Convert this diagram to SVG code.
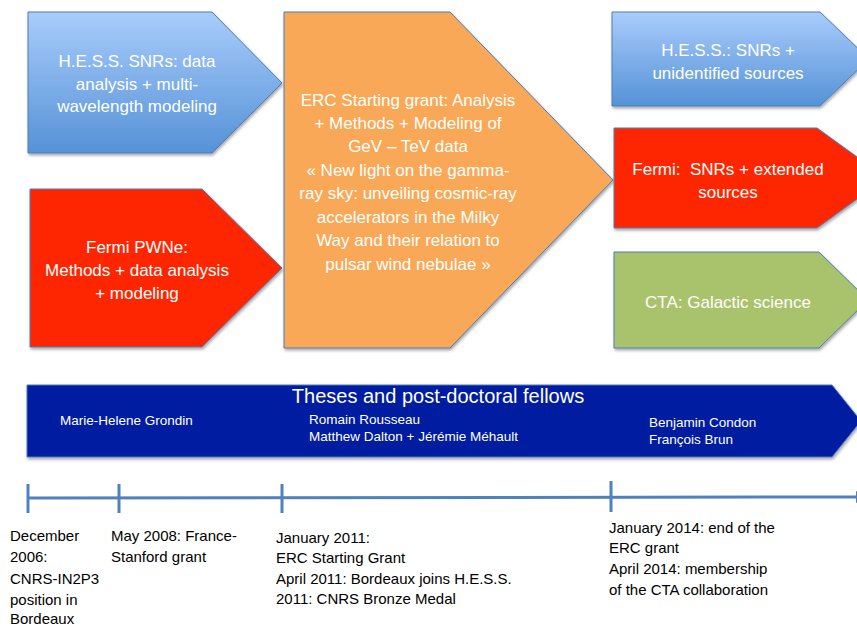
<svg xmlns="http://www.w3.org/2000/svg" width="857" height="626" viewBox="0 0 857 626">
<defs>
<linearGradient id="gBlue" x1="0" y1="0" x2="0" y2="1">
<stop offset="0" stop-color="#a9ccfb"/>
<stop offset="1" stop-color="#5592d7"/>
</linearGradient>
<filter id="sh" x="-5%" y="-5%" width="115%" height="115%">
<feDropShadow dx="1" dy="2" stdDeviation="1.5" flood-color="#000" flood-opacity="0.35"/>
</filter>
<marker id="arr" viewBox="0 0 10 10" refX="5" refY="5" markerWidth="4" markerHeight="4" orient="auto" markerUnits="strokeWidth">
<path d="M0,0 L10,5 L0,10 z" fill="#4f81bd"/>
</marker>
</defs>
<style>
.shape{stroke:#4a7ebb;stroke-width:1;filter:url(#sh)}
.bt{font-family:"Liberation Sans",Arial,sans-serif;font-size:17px;fill:#ffffff;text-anchor:middle}
.nm{font-family:"Liberation Sans",Arial,sans-serif;font-size:13.5px;fill:#ffffff}
.tl{font-family:"Liberation Sans",Arial,sans-serif;font-size:15px;fill:#000000}
.line{stroke:#4f81bd;stroke-width:3;fill:none}
</style>
<rect width="857" height="626" fill="#ffffff"/>

<g id="hess-snrs">
<polygon class="shape" fill="url(#gBlue)" points="28,12 212,12 282,83 212,153 28,153"/>
<text class="bt" x="137" y="67">H.E.S.S. SNRs: data</text>
<text class="bt" x="137" y="90">analysis + multi-</text>
<text class="bt" x="137" y="112">wavelength modeling</text>
</g>

<g id="fermi-pwne">
<polygon class="shape" fill="#fe2600" points="30,189 202,189 282,268 202,347 30,347"/>
<text class="bt" x="137" y="253">Fermi PWNe:</text>
<text class="bt" x="137" y="276">Methods + data analysis</text>
<text class="bt" x="137" y="299">+ modeling</text>
</g>

<g id="erc">
<polygon class="shape" fill="#f8a857" points="284,12 450,12 613,180 450,348 284,348"/>
<text class="bt" x="408" y="106">ERC Starting grant: Analysis</text>
<text class="bt" x="408" y="129">+ Methods + Modeling of</text>
<text class="bt" x="408" y="152">GeV – TeV data</text>
<text class="bt" x="408" y="176">« New light on the gamma-</text>
<text class="bt" x="408" y="199">ray sky: unveiling cosmic-ray</text>
<text class="bt" x="408" y="223">accelerators in the Milky</text>
<text class="bt" x="408" y="246">Way and their relation to</text>
<text class="bt" x="408" y="270">pulsar wind nebulae »</text>
</g>

<g id="hess-future">
<polygon class="shape" fill="url(#gBlue)" points="612,12 820,12 869,59 820,106 612,106"/>
<text class="bt" x="728" y="56">H.E.S.S.: SNRs +</text>
<text class="bt" x="728" y="79">unidentified sources</text>
</g>

<g id="fermi-future">
<polygon class="shape" fill="#fe2600" points="614,128 817,128 886,178 817,228 614,228"/>
<text class="bt" x="728" y="175">Fermi:&#160; SNRs + extended</text>
<text class="bt" x="728" y="198">sources</text>
</g>

<g id="cta">
<polygon class="shape" fill="#a9c36c" points="614,252 819,252 868,300 819,348 614,348"/>
<text class="bt" x="728" y="308">CTA: Galactic science</text>
</g>

<g id="theses">
<polygon class="shape" fill="#001aa0" points="27,385 832,385 861,421 832,457 27,457"/>
<text class="bt" x="438" y="403" style="font-size:20px">Theses and post-doctoral fellows</text>
<text class="nm" x="60" y="425">Marie-Helene Grondin</text>
<text class="nm" x="309" y="424">Romain Rousseau</text>
<text class="nm" x="309" y="441">Matthew Dalton + Jérémie Méhault</text>
<text class="nm" x="649" y="427">Benjamin Condon</text>
<text class="nm" x="649" y="444">François Brun</text>
</g>

<g id="timeline">
<line class="line" x1="28" y1="498" x2="862" y2="497" marker-end="url(#arr)"/>
<line class="line" x1="28" y1="484" x2="28" y2="513"/>
<line class="line" x1="119" y1="484" x2="119" y2="513"/>
<line class="line" x1="282" y1="484" x2="282" y2="513"/>
<line class="line" x1="611" y1="481" x2="611" y2="512"/>
</g>

<g id="dates">
<text class="tl" x="10" y="541">December</text>
<text class="tl" x="10" y="562">2006:</text>
<text class="tl" x="10" y="584">CNRS-IN2P3</text>
<text class="tl" x="10" y="605">position in</text>
<text class="tl" x="10" y="624">Bordeaux</text>
<text class="tl" x="111" y="541">May 2008: France-</text>
<text class="tl" x="111" y="562">Stanford grant</text>
<text class="tl" x="276" y="543">January 2011:</text>
<text class="tl" x="276" y="563">ERC Starting Grant</text>
<text class="tl" x="276" y="584">April 2011: Bordeaux joins H.E.S.S.</text>
<text class="tl" x="276" y="604">2011: CNRS Bronze Medal</text>
<text class="tl" x="609" y="533">January 2014: end of the</text>
<text class="tl" x="609" y="553">ERC grant</text>
<text class="tl" x="609" y="574">April 2014: membership</text>
<text class="tl" x="609" y="595">of the CTA collaboration</text>
</g>
</svg>
